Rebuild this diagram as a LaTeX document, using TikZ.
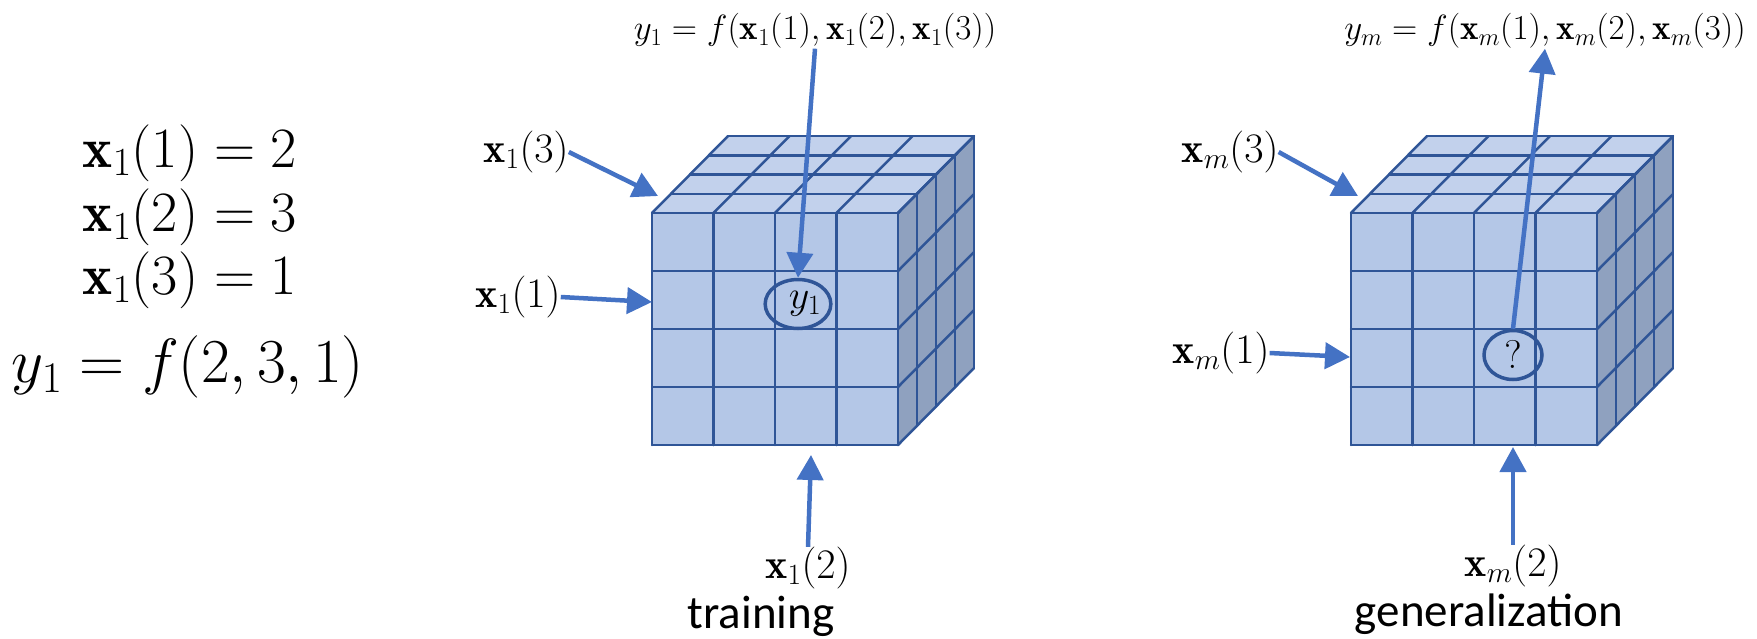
\RequirePackage{fix-cm}
\documentclass[tikz,border=0pt]{standalone}
\usepackage{fontspec}
\newfontfamily\calibrifont{Carlito}
\usetikzlibrary{arrows.meta,shapes.geometric}
\definecolor{arrowblue}{HTML}{4472C4}
\definecolor{edgeblue}{HTML}{2F5597}
\definecolor{frontfill}{HTML}{B4C7E7}
\definecolor{topfill}{HTML}{C2D1EC}
\definecolor{sidefill}{HTML}{8FA1BF}
\tikzset{
  conn/.style={draw=arrowblue, line width=4.5pt, -{Triangle[length=25pt,width=26pt]}},
  gridline/.style={draw=edgeblue, line width=2.5pt, line join=round, line cap=round},
  lbl/.style={inner sep=0pt, font=\fontsize{42}{50}\selectfont},
  toplbl/.style={inner sep=0pt, font=\fontsize{35}{42}\selectfont},
  eqlbl/.style={inner sep=0pt, font=\fontsize{57}{66}\selectfont},
  bigeq/.style={inner sep=0pt, font=\fontsize{62.5}{72}\selectfont},
  caption/.style={inner sep=0pt, anchor=base, font=\calibrifont\fontsize{47}{54}\selectfont},
  cell/.style={ellipse, draw=edgeblue, line width=3.5pt, minimum width=58pt, minimum height=49pt, inner sep=0pt, font=\fontsize{40}{48}\selectfont},
}
\newcommand\mycube[2]{%
  \begin{scope}[shift={(#1,#2)}]
    \fill[frontfill] (0,0) rectangle (246,232);
    \fill[topfill] (0,0) -- (246,0) -- (322,-77) -- (76,-77) -- cycle;
    \fill[sidefill] (246,0) -- (246,232) -- (322,155) -- (322,-77) -- cycle;
    \foreach \i in {0,...,4} {
      \draw[gridline] (\i*61.5,0) -- (\i*61.5,232);
      \draw[gridline] (0,\i*58) -- (246,\i*58);
      \draw[gridline] (\i*61.5,0) -- ++(76,-77);
      \draw[gridline] (\i*19,-\i*19.25) -- ++(246,0);
      \draw[gridline] (246+\i*19,-\i*19.25) -- ++(0,232);
      \draw[gridline] (246,\i*58) -- ++(76,-77);
    }
  \end{scope}}
\begin{document}
\begin{tikzpicture}[x=1pt,y=-1pt]
\useasboundingbox (0,0) rectangle (1757,638);

% left equations
\node[eqlbl] (eq1) at (190,153) {$\mathbf{x}_1(1)=2$};
\node[eqlbl] (eq2) at (190,217) {$\mathbf{x}_1(2)=3$};
\node[eqlbl] (eq3) at (190,280) {$\mathbf{x}_1(3)=1$};
\node[bigeq] (eq4) at (188,367) {$y_1=f(2,3,1)$};

% cubes
\mycube{652}{213}
\mycube{1351}{213}

% cells
\node[cell] (c1) at (798,304) {\hspace*{14pt}$y_1$};
\node[cell] (c2) at (1513,355) {$?$};

% training labels
\node[toplbl] (fy1) at (815,31) {$y_1=f(\mathbf{x}_1(1),\mathbf{x}_1(2),\mathbf{x}_1(3))$};
\node[lbl] (l13) at (526,152) {$\mathbf{x}_1(3)$};
\node[lbl] (l11) at (518,297) {$\mathbf{x}_1(1)$};
\node[lbl] (l12) at (808,568) {$\mathbf{x}_1(2)$};
\node[caption] (cap1) at (761,628) {training};

% generalization labels
\node[toplbl] (fym) at (1545,31) {$y_m=f(\mathbf{x}_m(1),\mathbf{x}_m(2),\mathbf{x}_m(3))$};
\node[lbl] (lm3) at (1230,152) {$\mathbf{x}_m(3)$};
\node[lbl] (lm1) at (1221,353) {$\mathbf{x}_m(1)$};
\node[lbl] (lm2) at (1513,566) {$\mathbf{x}_m(2)$};
\node[caption] (cap2) at (1489,626) {generalization};

% arrow targets
\coordinate (t13) at (658,196);
\coordinate (t11) at (652,302);
\coordinate (t12) at (811,455);
\coordinate (tm3) at (1358,196);
\coordinate (tm1) at (1350,357);
\coordinate (tm2) at (1513,447);

% connectors
\draw[conn] (l13.east) -- (t13);
\draw[conn] (l11.east) -- (t11);
\draw[conn] (l12.north) -- (t12);
\draw[conn] (fy1.south) -- (c1.north);
\draw[conn] (lm3.east) -- (tm3);
\draw[conn] (lm1.east) -- (tm1);
\draw[conn] (lm2.north) -- (tm2);
\draw[conn] (c2.north) -- (fym.south);
\end{tikzpicture}
\end{document}
